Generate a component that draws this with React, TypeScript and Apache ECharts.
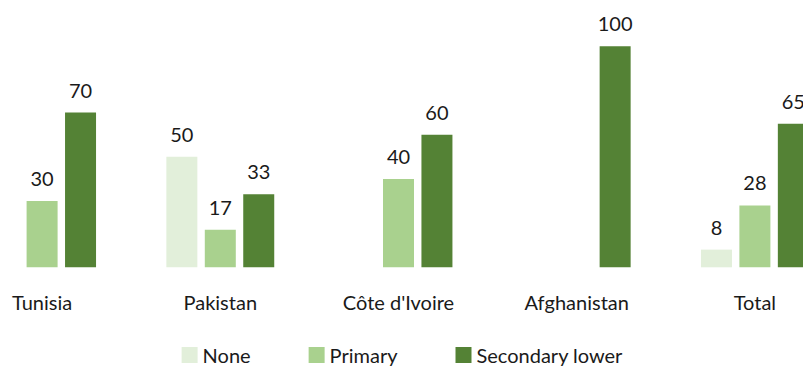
import React, { useEffect, useRef } from "react";
import * as echarts from "echarts";

const categories = ["Tunisia", "Pakistan", "Côte d'Ivoire", "Afghanistan", "Total"];
const seriesNames = ["None", "Primary", "Secondary lower"];
const noneValues: (number | null)[] = [null, 50, null, null, 8];
const primaryValues: (number | null)[] = [30, 17, 40, null, 28];
const secondaryValues: (number | null)[] = [70, 33, 60, 100, 65];
const colors = ["#E2EFDA", "#A9D18E", "#548235"];

const FONT = "Lato, 'Open Sans', sans-serif";
const TEXT = "#1a1a1a";
const SHIFT = 46.6;
const INNER_W = 803 + 46.6 + 41.6;

export default function App() {
  const ref = useRef<HTMLDivElement>(null);
  useEffect(() => {
    if (!ref.current) return;
    const chart = echarts.init(ref.current, undefined, { renderer: "svg" });
    const data = [noneValues, primaryValues, secondaryValues];
    chart.setOption({
      animation: false,
      textStyle: { fontFamily: FONT },
      grid: { left: 0, right: 0, top: 46.3, bottom: 100.7, containLabel: false },
      legend: {
        data: seriesNames,
        top: 345,
        left: 182 + SHIFT,
        padding: 0,
        itemWidth: 16,
        itemHeight: 16,
        itemGap: 58,
        icon: "rect",
        textStyle: { fontFamily: FONT, fontSize: 20, color: TEXT },
      },
      xAxis: {
        type: "category",
        data: categories,
        axisLine: { show: false },
        axisTick: { show: false },
        axisLabel: { fontFamily: FONT, fontSize: 20, color: TEXT, margin: 25 },
      },
      yAxis: {
        type: "value",
        min: 0,
        max: 100,
        show: false,
        splitLine: { show: false },
      },
      series: seriesNames.map((name, i) => ({
        name,
        type: "bar",
        data: data[i],
        barWidth: 31,
        barGap: "24%",
        itemStyle: { color: colors[i] },
        label: {
          show: true,
          position: "top",
          distance: 13,
          fontFamily: FONT,
          fontSize: 20,
          color: TEXT,
        },
      })),
    });
    return () => chart.dispose();
  }, []);
  return (
    <div style={{ position: "fixed", left: 0, top: 0, width: 803, height: 368, overflow: "hidden", background: "#fff" }}>
      <div ref={ref} style={{ position: "absolute", left: -SHIFT, top: 0, width: INNER_W, height: 368 }} />
    </div>
  );
}
